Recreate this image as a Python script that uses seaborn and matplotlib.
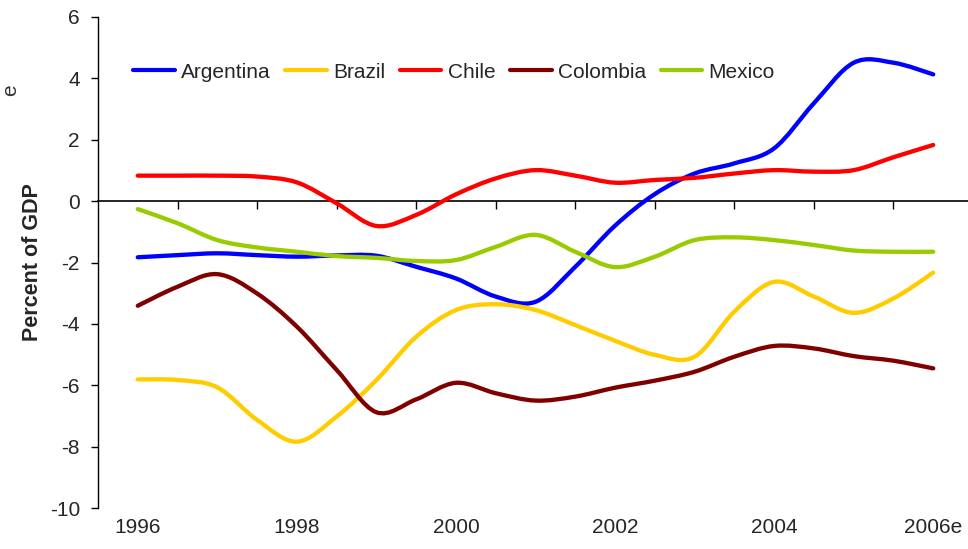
import numpy as np
import pandas as pd
import matplotlib
matplotlib.use("Agg")
import matplotlib.pyplot as plt
from matplotlib.path import Path
from matplotlib.patches import PathPatch
from matplotlib.lines import Line2D
import seaborn as sns

# ---- data (semi-annual readings) ----
years = [1996.0, 1996.5, 1997.0, 1997.5, 1998.0, 1998.5, 1999.0, 1999.5, 2000.0, 2000.5,
         2001.0, 2001.5, 2002.0, 2002.5, 2003.0, 2003.5, 2004.0, 2004.5, 2005.0, 2005.5, 2006.0]

argentina = [-1.83, -1.76, -1.70, -1.76, -1.81, -1.77, -1.78, -2.14, -2.52, -3.11,
             -3.28, -2.14, -0.80, 0.23, 0.90, 1.23, 1.72, 3.19, 4.51, 4.51, 4.13]
brazil = [-5.81, -5.83, -6.07, -7.13, -7.84, -7.02, -5.83, -4.42, -3.55, -3.36,
          -3.55, -4.04, -4.55, -5.01, -5.07, -3.60, -2.63, -3.11, -3.64, -3.17, -2.33]
chile = [0.83, 0.83, 0.83, 0.80, 0.61, -0.07, -0.81, -0.45, 0.22, 0.74,
         1.01, 0.83, 0.60, 0.69, 0.76, 0.90, 1.01, 0.96, 1.01, 1.43, 1.83]
colombia = [-3.41, -2.79, -2.38, -3.01, -4.09, -5.50, -6.88, -6.46, -5.92, -6.26,
            -6.50, -6.37, -6.08, -5.85, -5.56, -5.07, -4.72, -4.80, -5.05, -5.20, -5.45]
mexico = [-0.26, -0.72, -1.27, -1.51, -1.65, -1.79, -1.85, -1.95, -1.92, -1.49,
          -1.10, -1.65, -2.15, -1.81, -1.27, -1.18, -1.27, -1.43, -1.61, -1.65, -1.65]

countries = ["Argentina", "Brazil", "Chile", "Colombia", "Mexico"]
colors = ["#0000FF", "#FFCC00", "#FF0000", "#800000", "#99CC00"]

label_years = [1996, 1998, 2000, 2002, 2004, 2006]
label_texts = ["1996", "1998", "2000", "2002", "2004", "2006e"]
y_ticks = [-10, -8, -6, -4, -2, 0, 2, 4, 6]

series = {"Argentina": argentina, "Brazil": brazil, "Chile": chile,
          "Colombia": colombia, "Mexico": mexico}
df = pd.concat([pd.DataFrame({"year": years, "value": v, "country": k})
                for k, v in series.items()], ignore_index=True)

# ---- style ----
sns.set_style("white")
plt.rcParams["font.family"] = ["Liberation Sans", "DejaVu Sans"]

fig = plt.figure(figsize=(9.68, 5.49), dpi=100)
ax = fig.add_axes([98 / 968, 41 / 549, 875 / 968, 491 / 549])

sns.lineplot(data=df, x="year", y="value", hue="country", hue_order=countries,
             palette=colors, linewidth=3, legend=False, ax=ax)


def smooth_path(x, y):
    x = np.asarray(x, float)
    y = np.asarray(y, float)
    n = len(x)
    verts = [(x[0], y[0])]
    codes = [Path.MOVETO]
    for i in range(n - 1):
        i0 = max(i - 1, 0)
        i3 = min(i + 2, n - 1)
        c1 = (x[i] + (x[i + 1] - x[i0]) / 6, y[i] + (y[i + 1] - y[i0]) / 6)
        c2 = (x[i + 1] - (x[i3] - x[i]) / 6, y[i + 1] - (y[i3] - y[i]) / 6)
        verts += [c1, c2, (x[i + 1], y[i + 1])]
        codes += [Path.CURVE4] * 3
    return Path(verts, codes)


# replace straight seaborn lines by smoothed curves (Excel-like smoothing)
for line in list(ax.lines):
    xd, yd = line.get_xdata(), line.get_ydata()
    col = line.get_color()
    patch = PathPatch(smooth_path(xd, yd), facecolor="none", edgecolor=col,
                      linewidth=3.1, capstyle="round", joinstyle="round", zorder=3)
    ax.add_patch(patch)
    line.remove()

ax.set_xlim(1995.5, 2006.5)
ax.set_ylim(-10, 6)

# axes styling
for s in ["top", "right"]:
    ax.spines[s].set_visible(False)
ax.spines["left"].set_color("black")
ax.spines["left"].set_linewidth(1.0)
ax.spines["bottom"].set_position(("data", 0))
ax.spines["bottom"].set_color("black")
ax.spines["bottom"].set_linewidth(1.2)

ax.set_yticks(y_ticks)
ax.set_yticklabels([str(t) for t in y_ticks])
ax.tick_params(axis="y", direction="out", length=5, width=1, color="black",
               pad=8, labelsize=15, left=True)
ax.set_xticks([y + 0.5 for y in range(1996, 2006)])
ax.set_xticklabels([])
ax.tick_params(axis="x", direction="out", length=5.5, width=1, color="black",
               bottom=True)
ax.set_xlabel("")
ax.set_ylabel("Percent of GDP", fontsize=15.5, fontweight="bold", labelpad=5)

sec = ax.secondary_xaxis("bottom")
sec.set_xticks(label_years)
sec.set_xticklabels(label_texts)
sec.spines["bottom"].set_visible(False)
sec.tick_params(axis="x", length=0, pad=7, labelsize=15)

handles = [Line2D([0], [0], color=c, lw=3) for c in colors]
ax.legend(handles, countries, loc="center left",
          bbox_to_anchor=((133 - 98) / 875, (508 - 72) / 491),
          ncol=5, frameon=False, fontsize=15, handlelength=2.0,
          handletextpad=0.3, columnspacing=0.7, borderpad=0, borderaxespad=0)

# small text fragment at the far left
fig.text(0.001, 1 - 90 / 549, "e", rotation=90, fontsize=15, color="#333333",
         ha="left", va="center")

fig.savefig("out.png", dpi=100)
